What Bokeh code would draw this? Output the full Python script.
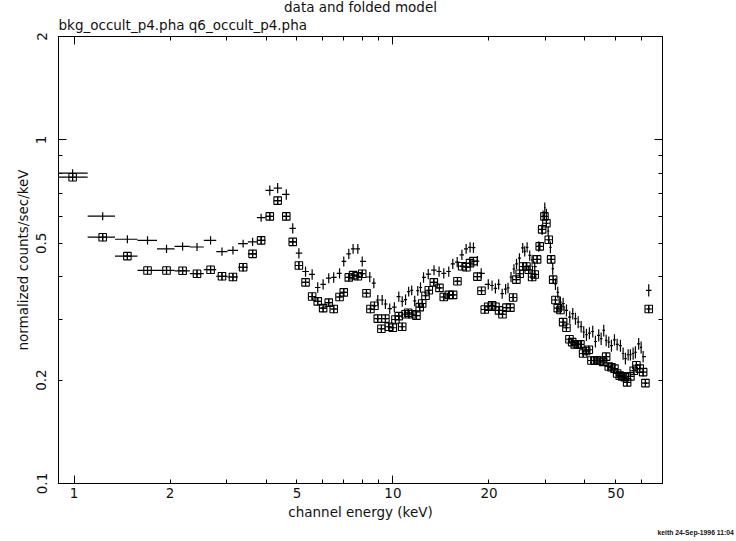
import numpy as np
from bokeh.plotting import figure
from bokeh.models import (ColumnDataSource, FixedTicker, LogAxis, Range1d, Title,
                          CustomJSTickFormatter)
from bokeh.embed import file_html
from bokeh.resources import INLINE

# ---------------- data ----------------
# first data set: plain error crosses
spec1_energy = [0.99, 1.23, 1.47, 1.70, 1.95, 2.19, 2.43, 2.68, 2.91, 3.15,
                3.39, 3.63, 3.86, 4.11, 4.35, 4.63, 4.85, 5.07, 5.32, 5.58,
                5.81, 6.04, 6.29, 6.52, 6.80, 7.01, 7.27, 7.50, 7.76, 8.01,
                8.46, 8.71, 8.96, 9.25, 9.47, 9.77, 10.1, 10.43, 10.69, 10.95,
                11.2, 11.45, 11.7, 11.96, 12.2, 12.47, 12.9, 13.45, 13.95, 14.43,
                14.96, 15.4, 15.9, 16.45, 16.96, 17.45, 17.88, 18.4, 18.91, 19.9,
                20.45, 20.95, 21.45, 22.0, 22.55, 22.95, 23.45, 23.95, 24.4, 24.92,
                25.52, 25.89, 26.34, 26.84, 27.31, 27.83, 28.65, 29.36, 29.57, 29.92,
                30.28, 30.66, 31.17, 31.69, 32.32, 32.86, 33.5, 34.16, 34.99, 35.83,
                36.62, 37.34, 38.08, 38.9, 39.64, 40.43, 41.3, 42.3, 43.13, 44.17,
                44.95, 45.8, 46.6, 47.49, 48.42, 49.48, 50.45, 51.67, 52.68, 53.56,
                54.62, 55.53, 56.62, 57.57, 58.94, 59.99, 60.86, 63.38]
spec1_rate = [0.80, 0.60, 0.514, 0.51, 0.482, 0.49, 0.488, 0.51, 0.473, 0.477,
              0.499, 0.505, 0.594, 0.713, 0.724, 0.694, 0.553, 0.468, 0.414, 0.406,
              0.372, 0.380, 0.396, 0.398, 0.409, 0.443, 0.466, 0.482, 0.482, 0.443,
              0.399, 0.383, 0.342, 0.342, 0.333, 0.323, 0.326, 0.350, 0.339, 0.343,
              0.362, 0.365, 0.340, 0.364, 0.372, 0.398, 0.407, 0.418, 0.414, 0.409,
              0.414, 0.436, 0.441, 0.463, 0.482, 0.487, 0.486, 0.444, 0.409, 0.380,
              0.377, 0.370, 0.380, 0.357, 0.368, 0.371, 0.399, 0.421, 0.436, 0.453,
              0.485, 0.474, 0.487, 0.461, 0.448, 0.428, 0.490, 0.548, 0.603, 0.635,
              0.610, 0.543, 0.487, 0.422, 0.381, 0.360, 0.337, 0.334, 0.319, 0.305,
              0.312, 0.302, 0.295, 0.286, 0.276, 0.271, 0.274, 0.277, 0.259, 0.270,
              0.264, 0.279, 0.261, 0.258, 0.252, 0.262, 0.254, 0.252, 0.239, 0.231,
              0.237, 0.237, 0.239, 0.241, 0.255, 0.249, 0.234, 0.365]
spec1_err = [0.022, 0.016, 0.014, 0.014, 0.013, 0.013, 0.013, 0.014, 0.013, 0.013,
             0.013, 0.014, 0.016, 0.024, 0.025, 0.024, 0.019, 0.016, 0.014, 0.014,
             0.013, 0.013, 0.013, 0.014, 0.014, 0.015, 0.016, 0.016, 0.016, 0.015,
             0.014, 0.013, 0.012, 0.012, 0.011, 0.011, 0.011, 0.012, 0.012, 0.012,
             0.012, 0.012, 0.012, 0.012, 0.013, 0.014, 0.014, 0.014, 0.014, 0.014,
             0.014, 0.015, 0.015, 0.016, 0.016, 0.017, 0.017, 0.015, 0.014, 0.013,
             0.013, 0.013, 0.013, 0.012, 0.013, 0.013, 0.014, 0.014, 0.015, 0.015,
             0.016, 0.016, 0.017, 0.016, 0.015, 0.015, 0.017, 0.019, 0.020, 0.022,
             0.021, 0.018, 0.019, 0.017, 0.015, 0.014, 0.013, 0.013, 0.013, 0.012,
             0.012, 0.012, 0.012, 0.011, 0.011, 0.011, 0.011, 0.011, 0.010, 0.011,
             0.011, 0.011, 0.010, 0.010, 0.010, 0.010, 0.010, 0.010, 0.010, 0.009,
             0.009, 0.009, 0.010, 0.010, 0.010, 0.010, 0.009, 0.015]

# second data set: boxed points
spec2_energy = [0.99, 1.23, 1.47, 1.70, 1.95, 2.19, 2.43, 2.68, 2.91, 3.15,
                3.39, 3.63, 3.86, 4.11, 4.35, 4.63, 4.85, 5.07, 5.32, 5.58,
                5.81, 6.04, 6.29, 6.52, 6.80, 7.01, 7.27, 7.50, 7.76, 8.01,
                8.26, 8.50, 8.75, 8.96, 9.20, 9.47, 9.70, 9.99, 10.18, 10.43,
                10.69, 10.95, 11.16, 11.49, 11.85, 12.13, 12.35, 12.65, 12.95, 13.43,
                13.99, 14.43, 14.96, 15.44, 15.93, 16.48, 17.0, 17.45, 17.88, 18.4,
                18.95, 19.4, 19.89, 20.46, 20.96, 21.5, 22.05, 22.69, 23.35, 23.81,
                24.38, 24.97, 25.59, 26.21, 26.65, 27.31, 27.83, 28.31, 28.85, 29.36,
                29.85, 30.28, 30.79, 31.33, 31.79, 32.32, 32.86, 33.5, 34.16, 34.99,
                35.76, 36.46, 37.15, 37.97, 38.71, 39.47, 40.34, 41.11, 41.91, 42.83,
                43.66, 44.72, 45.6, 46.6, 47.49, 48.42, 49.48, 50.45, 51.4, 52.3,
                53.29, 54.23, 55.53, 56.87, 57.98, 59.39, 60.86, 61.88, 63.38]
spec2_rate = [0.779, 0.521, 0.459, 0.417, 0.417, 0.416, 0.408, 0.419, 0.401, 0.399,
              0.426, 0.466, 0.510, 0.599, 0.666, 0.599, 0.505, 0.431, 0.385, 0.350,
              0.339, 0.324, 0.336, 0.322, 0.349, 0.360, 0.398, 0.404, 0.401, 0.408,
              0.358, 0.322, 0.329, 0.302, 0.282, 0.302, 0.286, 0.284, 0.300, 0.307,
              0.286, 0.311, 0.314, 0.311, 0.308, 0.326, 0.334, 0.352, 0.365, 0.385,
              0.371, 0.349, 0.354, 0.354, 0.388, 0.429, 0.426, 0.438, 0.444, 0.400,
              0.364, 0.321, 0.327, 0.330, 0.327, 0.319, 0.311, 0.325, 0.325, 0.348,
              0.392, 0.408, 0.428, 0.428, 0.419, 0.399, 0.406, 0.449, 0.490, 0.549,
              0.599, 0.572, 0.512, 0.449, 0.392, 0.342, 0.324, 0.320, 0.295, 0.284,
              0.263, 0.258, 0.254, 0.254, 0.254, 0.239, 0.243, 0.245, 0.228, 0.228,
              0.228, 0.228, 0.226, 0.234, 0.219, 0.218, 0.216, 0.209, 0.206, 0.205,
              0.204, 0.197, 0.205, 0.213, 0.221, 0.216, 0.211, 0.196, 0.322]
spec2_err = [0.021, 0.014, 0.012, 0.011, 0.011, 0.011, 0.011, 0.011, 0.011, 0.011,
             0.012, 0.013, 0.014, 0.016, 0.018, 0.016, 0.014, 0.012, 0.010, 0.009,
             0.009, 0.009, 0.009, 0.009, 0.009, 0.010, 0.011, 0.011, 0.011, 0.011,
             0.010, 0.009, 0.009, 0.008, 0.008, 0.008, 0.008, 0.008, 0.008, 0.008,
             0.008, 0.008, 0.008, 0.008, 0.008, 0.009, 0.009, 0.010, 0.010, 0.010,
             0.010, 0.009, 0.010, 0.010, 0.010, 0.012, 0.012, 0.012, 0.012, 0.011,
             0.010, 0.009, 0.009, 0.009, 0.009, 0.009, 0.008, 0.009, 0.009, 0.009,
             0.011, 0.011, 0.012, 0.012, 0.011, 0.011, 0.011, 0.012, 0.013, 0.015,
             0.016, 0.015, 0.014, 0.012, 0.011, 0.009, 0.009, 0.009, 0.008, 0.008,
             0.007, 0.007, 0.007, 0.007, 0.007, 0.006, 0.007, 0.007, 0.006, 0.006,
             0.006, 0.006, 0.006, 0.006, 0.006, 0.006, 0.006, 0.006, 0.006, 0.006,
             0.006, 0.005, 0.006, 0.006, 0.006, 0.006, 0.006, 0.005, 0.009]

x_ticks = [1, 2, 3, 4, 5, 6, 7, 8, 9, 10, 20, 30, 40, 50, 60]
x_labelled = [1, 2, 5, 10, 20, 50]
x_long = [1, 10]
y_ticks = [0.1, 0.2, 0.3, 0.4, 0.5, 0.6, 0.7, 0.8, 0.9, 1, 2]
y_labelled = [0.1, 0.2, 0.5, 1, 2]
y_long = [0.1, 1]

title_text = "data and folded model"
files_text = "bkg_occult_p4.pha  q6_occult_p4.pha"
x_title = "channel energy (keV)"
y_title = "normalized counts/sec/keV"
stamp_text = "keith 24-Sep-1996 11:04"


def make_source(energy, rate, err):
    e = np.asarray(energy, float)
    r = np.asarray(rate, float)
    s = np.asarray(err, float)
    mid = np.sqrt(e[:-1] * e[1:])
    lo = np.concatenate([[e[0] ** 2 / mid[0]], mid])
    hi = np.concatenate([mid, [e[-1] ** 2 / mid[-1]]])
    return ColumnDataSource(dict(x=e, y=r, lo=lo, hi=hi, ylo=r - s, yhi=r + s))


FONT = "DejaVu Sans"
FS = "13.5px"
INK = "#111111"

p = figure(width=736, height=541, x_axis_type="log", y_axis_type="log",
           x_range=Range1d(0.894, 70.0), y_range=Range1d(0.1, 2.0),
           output_backend="svg", toolbar_location=None, title=None,
           min_border_left=58, min_border_right=74, min_border_top=36,
           min_border_bottom=58)
p.xgrid.visible = False
p.ygrid.visible = False
p.outline_line_color = "black"
p.outline_line_width = 1
p.background_fill_color = "white"
p.border_fill_color = "white"

src1 = make_source(spec1_energy, spec1_rate, spec1_err)
src2 = make_source(spec2_energy, spec2_rate, spec2_err)

for src in (src1, src2):
    p.segment(x0="lo", y0="y", x1="hi", y1="y", source=src,
              line_color="black", line_width=1.2)
    p.segment(x0="x", y0="ylo", x1="x", y1="yhi", source=src,
              line_color="black", line_width=1.2)
p.scatter(x="x", y="y", source=src2, marker="square_cross", size=7.5,
          fill_color=None, line_color="black", line_width=1.1)


def style_axis(ax, ticks, long_ticks, labelled):
    ax.ticker = FixedTicker(ticks=ticks, minor_ticks=long_ticks)
    ax.major_tick_in = 4
    ax.major_tick_out = 0
    ax.minor_tick_in = 8
    ax.minor_tick_out = 0
    ax.axis_line_color = "black"
    ax.major_tick_line_color = "black"
    ax.minor_tick_line_color = "black"
    if labelled is None:
        ax.formatter = CustomJSTickFormatter(code="return '';")
        ax.major_label_text_font_size = "0px"
        ax.major_label_standoff = 0
    else:
        ax.formatter = CustomJSTickFormatter(
            args=dict(show=labelled),
            code="return show.includes(tick) ? String(tick) : '';")
        ax.major_label_text_font = FONT
        ax.major_label_text_font_size = FS
        ax.major_label_text_color = INK
        ax.axis_label_text_font = FONT
        ax.axis_label_text_font_size = FS
        ax.axis_label_text_font_style = "normal"
        ax.axis_label_text_color = INK


bottom = p.below[0]
left = p.left[0]
style_axis(bottom, x_ticks, x_long, x_labelled)
style_axis(left, y_ticks, y_long, y_labelled)
bottom.major_label_standoff = 4
bottom.axis_label = x_title
bottom.axis_label_standoff = 3
left.major_label_orientation = "vertical"
left.major_label_standoff = 12
left.axis_label = y_title
left.axis_label_standoff = 3

top = LogAxis()
right = LogAxis()
style_axis(top, x_ticks, x_long, None)
style_axis(right, y_ticks, y_long, None)
p.add_layout(top, "above")
p.add_layout(right, "right")

# texts outside the frame as title panels
files_title = Title(text=files_text, align="left", vertical_align="bottom",
                    standoff=8, text_font=FONT, text_font_size=FS,
                    text_font_style="normal", text_color=INK)
main_title = Title(text=title_text, align="center", vertical_align="bottom",
                   standoff=-8, text_font=FONT, text_font_size=FS,
                   text_font_style="normal", text_color=INK)
p.add_layout(files_title, "above")
p.add_layout(main_title, "above")

stamp = Title(text=stamp_text, align="left", offset=599, vertical_align="bottom",
              standoff=9, text_font="Liberation Sans", text_font_style="bold",
              text_font_size="6.8px", text_color=INK)
p.add_layout(stamp, "below")

open("out.html", "w").write(file_html(p, INLINE))
